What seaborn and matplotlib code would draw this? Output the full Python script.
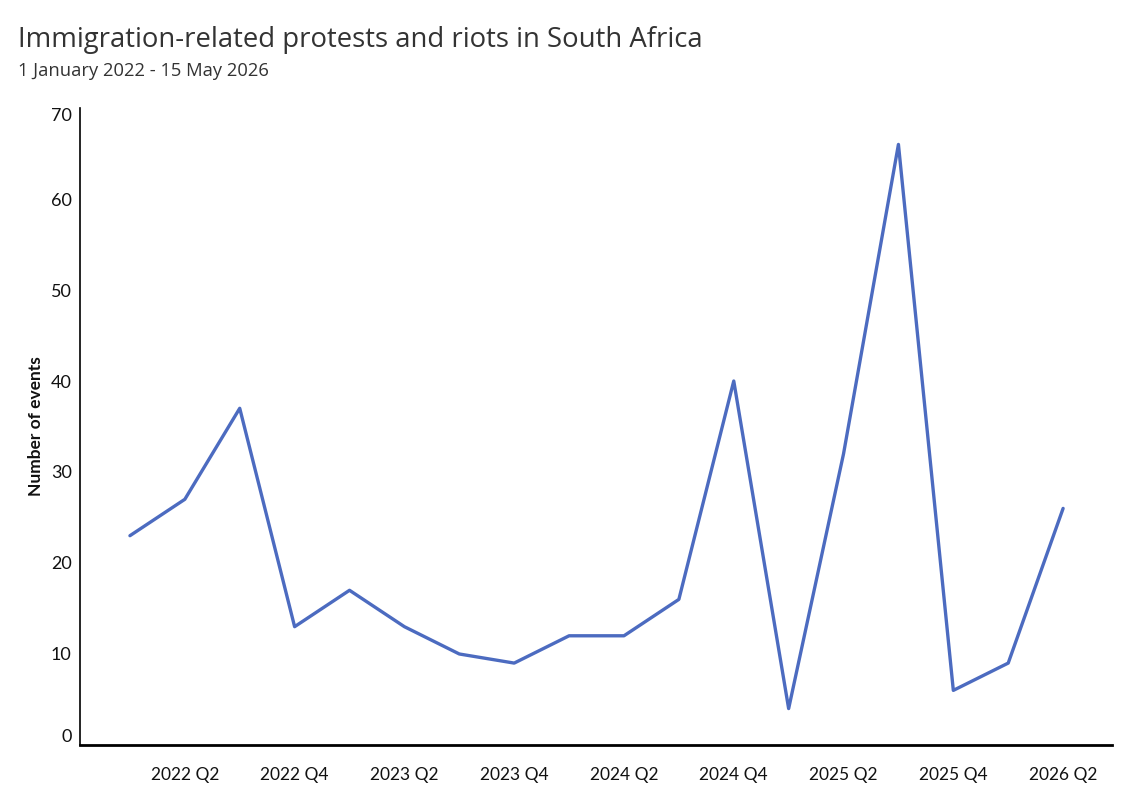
import pandas as pd
import matplotlib.pyplot as plt
import seaborn as sns

# Quarterly counts, 2022 Q1 .. 2026 Q2
quarters = [
    "2022 Q1", "2022 Q2", "2022 Q3", "2022 Q4",
    "2023 Q1", "2023 Q2", "2023 Q3", "2023 Q4",
    "2024 Q1", "2024 Q2", "2024 Q3", "2024 Q4",
    "2025 Q1", "2025 Q2", "2025 Q3", "2025 Q4",
    "2026 Q1", "2026 Q2",
]
events = [23, 27, 37, 13, 17, 13, 10, 9, 12, 12, 16, 40, 4, 32, 66, 6, 9, 26]
y_ticks = [0, 10, 20, 30, 40, 50, 60, 70]

df = pd.DataFrame({"idx": range(len(quarters)), "quarter": quarters, "events": events})

sns.set_style("white")
plt.rcParams["font.family"] = ["Lato", "DejaVu Sans"]

fig = plt.figure(figsize=(11.46, 8.02), dpi=100)
ax = fig.add_axes([0.0698, 0.0711, 0.9005, 0.7942])

sns.lineplot(data=df, x="idx", y="events", ax=ax, color="#4C6BC0", linewidth=2.4)

ax.set_xlim(-0.91, len(quarters) - 1 + 0.89)
ax.set_ylim(0, 70)

ax.set_xticks(df["idx"])
ax.set_xticklabels([q if q.endswith(("Q2", "Q4")) else "" for q in quarters])
ax.set_yticks(y_ticks)
ax.set_yticklabels([str(v) for v in y_ticks])
ylabs = ax.get_yticklabels()
ylabs[0].set_va("bottom")
ylabs[-1].set_va("top")

ax.tick_params(axis="x", length=4, color="#e4e4e4", pad=12, labelsize=12.5, labelcolor="#111111")
ax.tick_params(axis="y", length=4, color="#e4e4e4", pad=2, labelsize=13, labelcolor="#111111")

for s in ["top", "right"]:
    ax.spines[s].set_visible(False)
ax.spines["left"].set_color("black")
ax.spines["left"].set_linewidth(1.2)
ax.spines["bottom"].set_color("black")
ax.spines["bottom"].set_linewidth(2.0)

ax.set_xlabel("")
ax.set_ylabel("Number of events", fontsize=12.5, fontweight="bold", color="#111111", labelpad=5)

fig.text(0.0157, 0.95, "Immigration-related protests and riots in South Africa",
         fontsize=19.8, color="#333333", va="center", ha="left",
         family=["Open Sans", "DejaVu Sans"])
fig.text(0.0157, 0.912, "1 January 2022 - 15 May 2026",
         fontsize=13.2, color="#333333", va="center", ha="left",
         family=["Open Sans", "DejaVu Sans"])

fig.savefig("out.png", dpi=100)
